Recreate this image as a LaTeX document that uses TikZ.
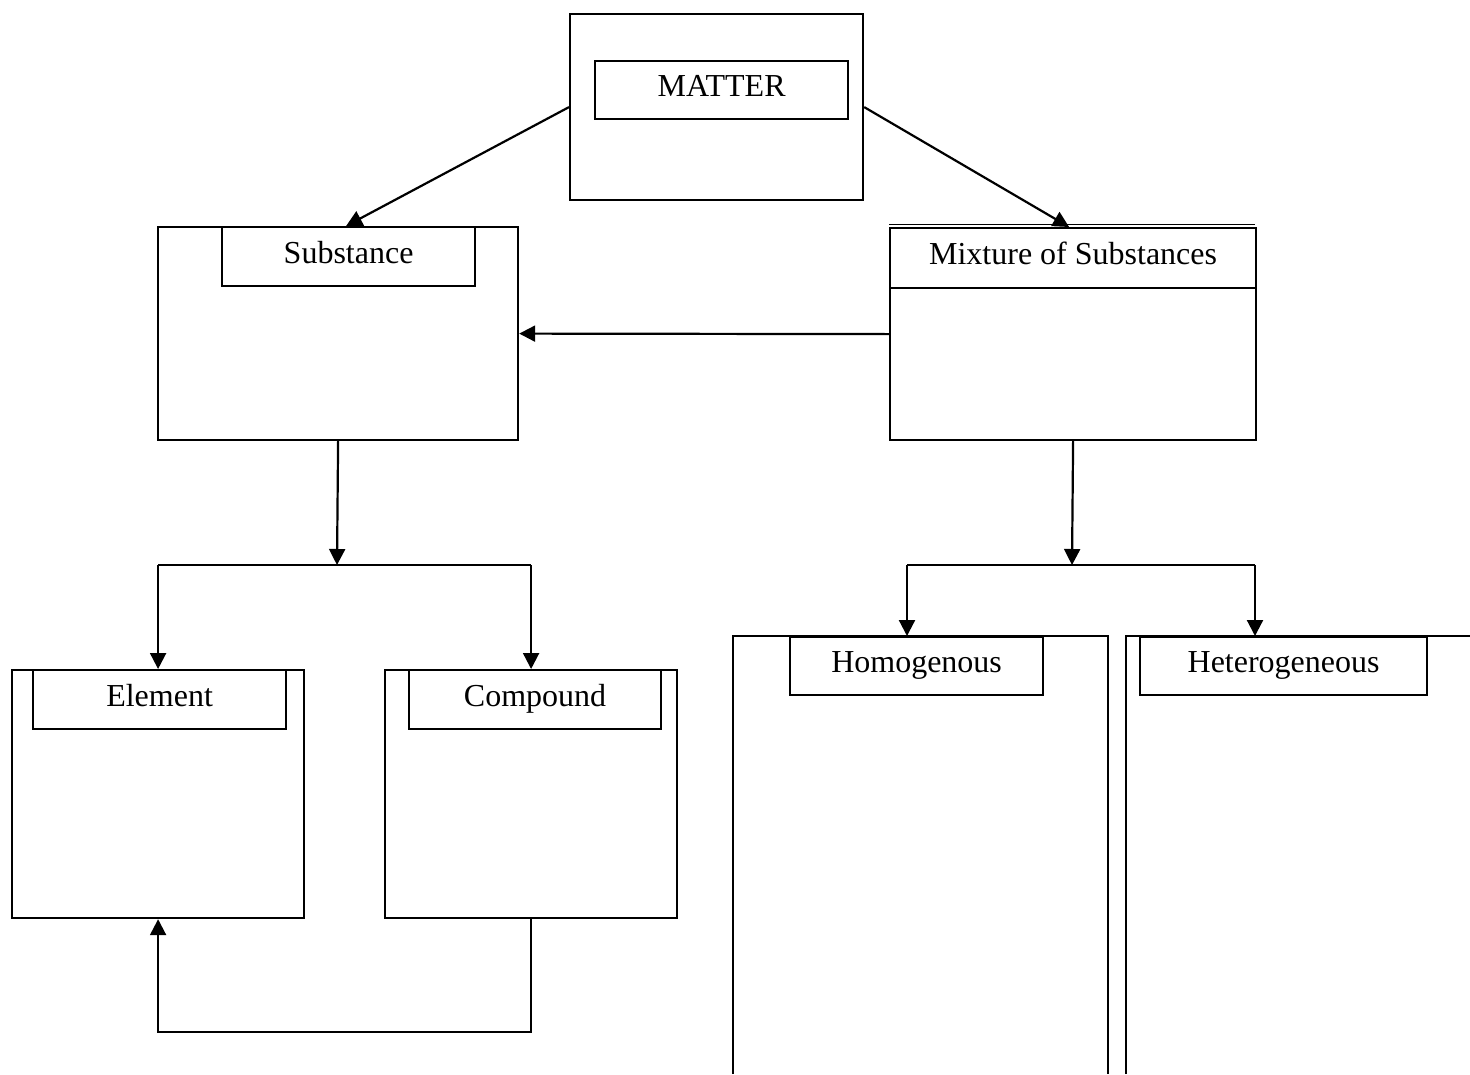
\documentclass[tikz,border=0pt]{standalone}
\usepackage{fontspec}
\setmainfont{Liberation Serif}
\usetikzlibrary{arrows.meta}
\begin{document}
\begin{tikzpicture}[x=1pt,y=-1pt, line width=2.2pt,
  box/.style={draw, rectangle, inner sep=0pt, anchor=north west},
  lbl/.style={font=\fontsize{32}{38}\selectfont, text height=22pt, text depth=9pt},
  arr/.style={-{Triangle[length=16pt,width=16pt]}}]
\useasboundingbox (0,0) rectangle (1470,1074);
% MATTER
\node[box, minimum width=293pt, minimum height=186pt] (matter) at (569,13) {};
\node[box, lbl, minimum width=253pt, minimum height=58pt] (matterlbl) at (594,60) {MATTER};
% Substance
\node[box, minimum width=360pt, minimum height=213pt] (substance) at (157,226) {};
\node[box, lbl, minimum width=253pt, minimum height=59pt] (substancelbl) at (221,226) {Substance};
% Mixture
\node[box, minimum width=366pt, minimum height=212pt] (mixture) at (889,227) {};
\node[box, lbl, minimum width=366pt, minimum height=60pt] (mixturelbl) at (889,227) {Mixture of Substances};
\draw[line width=1pt] (mixture.north west) ++(0,-3) -- ++(366,0);
% Element / Compound
\node[box, minimum width=292pt, minimum height=248pt] (element) at (11,669) {};
\node[box, lbl, minimum width=253pt, minimum height=59pt] (elementlbl) at (32,669) {Element};
\node[box, minimum width=292pt, minimum height=248pt] (compound) at (384,669) {};
\node[box, lbl, minimum width=252pt, minimum height=59pt] (compoundlbl) at (408,669) {Compound};
% Homogenous / Heterogeneous (open boxes)
\coordinate (homo) at (907,636);
\coordinate (hetero) at (1255,636);
\draw (733,1074) -- (733,636) -- (1108,636) -- (1108,1074);
\draw (1126,1074) -- (1126,636) -- (1470,636);
\node[box, lbl, minimum width=253pt, minimum height=58pt] (homolbl) at (789,636) {Homogenous};
\node[box, lbl, minimum width=287pt, minimum height=58pt] (heterolbl) at (1139,636) {Heterogeneous};
% connectors
\draw[arr] (matter.west) -- ([xshift=8pt]substance.north);
\draw[arr] (matter.east) -- ([xshift=-4pt]mixture.north);
\draw[arr] (mixture.west) -- (substance.east);
\coordinate (sj) at (337,565);
\coordinate (mj) at (1072,565);
\draw[arr] (substance.south) -- (sj);
\draw (sj -| element.north) -- (sj -| compound.north);
\draw[arr] (sj -| element.north) -- (element.north);
\draw[arr] (sj -| compound.north) -- (compound.north);
\draw[arr] (compound.south) -- ++(0,113) -| (element.south);
\draw[arr] (mixture.south) -- (mj);
\draw (mj -| homo) -- (mj -| hetero);
\draw[arr] (mj -| homo) -- (homo);
\draw[arr] (mj -| hetero) -- (hetero);
\end{tikzpicture}
\end{document}
